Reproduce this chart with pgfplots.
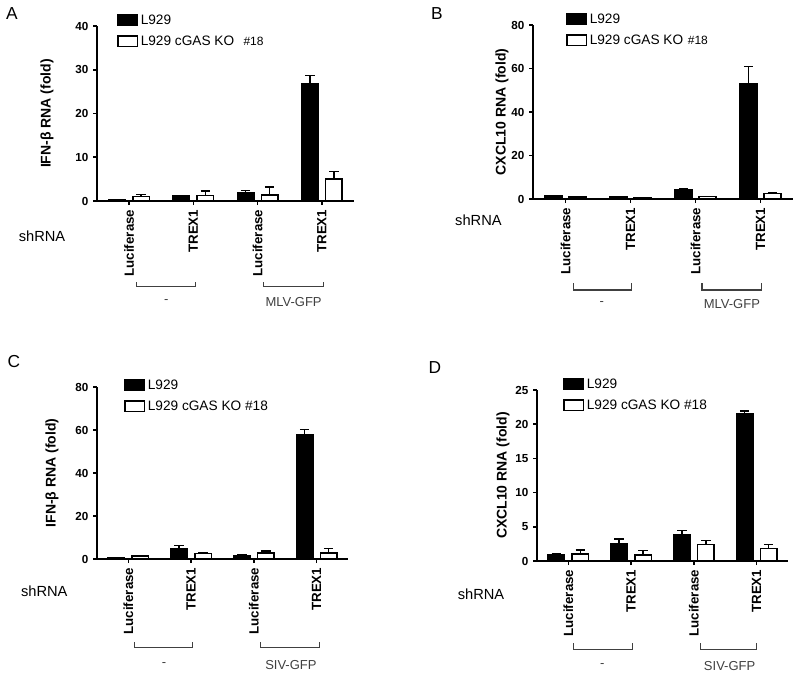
\documentclass[border=0pt]{standalone}
\usepackage{pgfplots}
\pgfplotsset{compat=1.18}
\usepackage{fontspec}
\setmainfont{Liberation Sans}
\newcommand{\fs}[1]{\fontsize{#1}{#1}\selectfont}
\definecolor{brk}{gray}{0.25}

\pgfplotsset{
  panel/.style={
    scale only axis,
    ybar=5.5pt,
    bar width=12.5pt,
    axis x line*=bottom, axis y line*=left,
    axis line style={line width=1.2pt},
    xmin=-0.5, xmax=3.5, ymin=0,
    xtick={0,1,2,3},
    xticklabels={Luciferase,TREX1,Luciferase,TREX1},
    x tick label style={rotate=90, anchor=east, font=\bfseries\fs{10}},
    y tick label style={font=\bfseries\fs{8.75}},
    /pgf/number format/assume math mode=true,
    tick align=outside,
    major tick length=3pt,
    every tick/.style={black, line width=1.2pt},
    ylabel style={font=\bfseries\fs{10.5}, anchor=center},
    clip=false,
    legend style={draw=none, fill=none, inner sep=0pt, row sep=3.2pt, font=\fs{10.25}, anchor=north west},
    legend cell align=left,
    legend image code/.code={\draw[##1] (0pt,-3.5pt) rectangle (14.5pt,4.5pt);},
  },
  blackbar/.style={fill=black, draw=black, line width=1.1pt,
    error bars/.cd, y dir=plus, y explicit,
    error bar style={line width=1.1pt, black},
    error mark options={rotate=90, mark size=3.5pt, line width=1.1pt, black}},
  whitebar/.style={fill=white, draw=black, line width=1.1pt,
    error bars/.cd, y dir=plus, y explicit,
    error bar style={line width=1.1pt, black},
    error mark options={rotate=90, mark size=3.5pt, line width=1.1pt, black}},
}
\newcommand{\brk}[4]{%
  \draw[line width=0.8pt, brk] ({axis cs:#1,0} |- {axis description cs:0,#3}) -- ({axis cs:#1,0} |- {axis description cs:0,#4}) -- ({axis cs:#2,0} |- {axis description cs:0,#4}) -- ({axis cs:#2,0} |- {axis description cs:0,#3});}

\begin{document}
\begin{tikzpicture}
\useasboundingbox (0pt,0pt) rectangle (600pt,-506.25pt);

\node[font=\fs{13}] at (9pt,-10.5pt) {A};
\node[font=\fs{13}] at (327.75pt,-10.5pt) {B};
\node[font=\fs{13}] at (10.5pt,-271.5pt) {C};
\node[font=\fs{13}] at (326.25pt,-276pt) {D};

% ---------------- A ----------------
\begin{axis}[panel, at={(72.75pt,-150.75pt)}, anchor=south west,
  width=192.75pt, height=131.25pt,
  ymax=40, ytick={0,10,20,30,40},
  ylabel={IFN-β RNA (fold)},
  ylabel style={at={(axis description cs:-0.195,0.5)}},
  legend style={at={(axis description cs:0.078,1.08)}}]
\addplot[blackbar] coordinates {(0,0.25) +- (0,0.15) (1,1.1) +- (0,0.2) (2,1.8) +- (0,0.6) (3,26.8) +- (0,1.9)};
\addlegendentry{L929}
\addplot[whitebar] coordinates {(0,1.0) +- (0,0.45) (1,1.3) +- (0,1.0) (2,1.4) +- (0,1.8) (3,5.0) +- (0,1.7)};
\addlegendentry{L929 cGAS KO\hspace{7pt}{\fs{9}\#18}}
\brk{0.12}{1.03}{-0.463}{-0.491}
\brk{2.09}{3.03}{-0.463}{-0.491}
\node[font=\fs{9.75}, text=brk] at ({axis cs:0.58,0} |- {axis description cs:0,-0.577}) {-};
\node[font=\fs{9.75}, text=brk] at ({axis cs:2.56,0} |- {axis description cs:0,-0.577}) {MLV-GFP};
\node[font=\fs{11}] at (axis description cs:-0.214,-0.2) {shRNA};
\end{axis}

% ---------------- B ----------------
\begin{axis}[panel, at={(399.75pt,-149.25pt)}, anchor=south west,
  width=195pt, height=130.5pt,
  ymax=80, ytick={0,20,40,60,80},
  ylabel={CXCL10 RNA (fold)},
  ylabel style={at={(axis description cs:-0.119,0.5)}},
  legend style={at={(axis description cs:0.127,1.08)}}]
\addplot[blackbar] coordinates {(0,1.3) +- (0,0.2) (1,1.0) +- (0,0.1) (2,4.2) +- (0,0.3) (3,53.0) +- (0,8.0)};
\addlegendentry{L929}
\addplot[whitebar] coordinates {(0,0.9) +- (0,0.1) (1,0.5) +- (0,0.1) (2,1.1) +- (0,0.1) (3,2.6) +- (0,0.3)};
\addlegendentry{L929 cGAS KO\hspace{3.5pt}{\fs{9}\#18}}
\brk{0.125}{1.02}{-0.483}{-0.523}
\brk{2.1}{3.02}{-0.483}{-0.523}
\node[font=\fs{9.75}, text=brk] at ({axis cs:0.56,0} |- {axis description cs:0,-0.603}) {-};
\node[font=\fs{9.75}, text=brk] at ({axis cs:2.56,0} |- {axis description cs:0,-0.603}) {MLV-GFP};
\node[font=\fs{11}] at (axis description cs:-0.21,-0.12) {shRNA};
\end{axis}

% ---------------- C ----------------
\begin{axis}[panel, at={(72.75pt,-419.25pt)}, anchor=south west,
  width=188.25pt, height=129pt,
  ymax=80, ytick={0,20,40,60,80},
  ylabel={IFN-β RNA (fold)},
  ylabel style={at={(axis description cs:-0.179,0.5)}},
  legend style={at={(axis description cs:0.108,1.058)}}]
\addplot[blackbar] coordinates {(0,0.4) +- (0,0.1) (1,4.6) +- (0,1.7) (2,1.6) +- (0,0.4) (3,58.0) +- (0,2.2)};
\addlegendentry{L929}
\addplot[whitebar] coordinates {(0,1.3) +- (0,0.3) (1,2.5) +- (0,0.3) (2,2.9) +- (0,0.8) (3,2.7) +- (0,2.3)};
\addlegendentry{L929 cGAS KO \#18}
\brk{0.1}{1.02}{-0.483}{-0.517}
\brk{2.11}{3.05}{-0.483}{-0.517}
\node[font=\fs{9.75}, text=brk] at ({axis cs:0.57,0} |- {axis description cs:0,-0.616}) {-};
\node[font=\fs{9.75}, text=brk] at ({axis cs:2.59,0} |- {axis description cs:0,-0.616}) {SIV-GFP};
\node[font=\fs{11}] at (axis description cs:-0.21,-0.19) {shRNA};
\end{axis}

% ---------------- D ----------------
\begin{axis}[panel, at={(402.75pt,-420.75pt)}, anchor=south west,
  width=188.25pt, height=128.25pt,
  ymax=25, ytick={0,5,10,15,20,25},
  ylabel={CXCL10 RNA (fold)},
  ylabel style={at={(axis description cs:-0.135,0.5)}},
  legend style={at={(axis description cs:0.104,1.082)}}]
\addplot[blackbar] coordinates {(0,0.9) +- (0,0.2) (1,2.5) +- (0,0.7) (2,3.85) +- (0,0.6) (3,21.6) +- (0,0.3)};
\addlegendentry{L929}
\addplot[whitebar] coordinates {(0,1.0) +- (0,0.6) (1,0.85) +- (0,0.65) (2,2.4) +- (0,0.6) (3,1.85) +- (0,0.6)};
\addlegendentry{L929 cGAS KO \#18}
\brk{0.08}{1.02}{-0.48}{-0.515}
\brk{2.1}{3.0}{-0.48}{-0.515}
\node[font=\fs{9.75}, text=brk] at ({axis cs:0.54,0} |- {axis description cs:0,-0.614}) {-};
\node[font=\fs{9.75}, text=brk] at ({axis cs:2.57,0} |- {axis description cs:0,-0.614}) {SIV-GFP};
\node[font=\fs{11}] at (axis description cs:-0.223,-0.193) {shRNA};
\end{axis}
\end{tikzpicture}
\end{document}
